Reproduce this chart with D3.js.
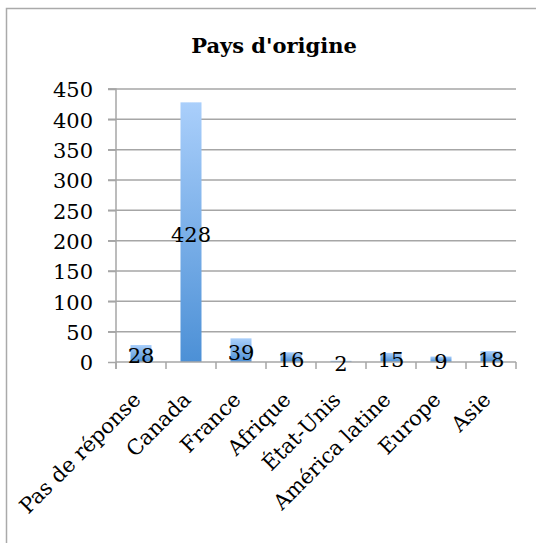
<!DOCTYPE html>
<html>
<head>
<meta charset="utf-8">
<script src="https://cdn.jsdelivr.net/npm/d3@7"></script>
<style>
  body { margin: 0; background: #fff; }
  svg text { font-family: "DejaVu Serif", serif; fill: #000; }
</style>
</head>
<body>
<div id="chart"></div>
<script>
  // data
  const categories = ["Pas de réponse", "Canada", "France", "Afrique", "État-Unis", "América latine", "Europe", "Asie"];
  const counts = [28, 428, 39, 16, 2, 15, 9, 18];
  const yTicks = [0, 50, 100, 150, 200, 250, 300, 350, 400, 450];
  const title = "Pays d'origine";

  const width = 536;
  const height = 543;
  const margin = { top: 89, left: 116, right: 20, bottom: 181 };

  const svg = d3.select('#chart')
    .append('svg')
    .attr('width', width)
    .attr('height', height);

  // outer frame, runs past the right and bottom edges
  svg.append('rect')
    .attr('x', 6.5).attr('y', 8.5)
    .attr('width', width + 20).attr('height', height + 20)
    .attr('fill', 'none')
    .attr('stroke', '#aaa')
    .attr('stroke-width', 1.5);

  const x = d3.scaleBand()
    .domain(categories)
    .range([margin.left, 516])
    .paddingInner(0.58)
    .paddingOuter(0.29);

  const y = d3.scaleLinear()
    .domain([0, 450])
    .range([362, margin.top]);

  // gradient for the bars
  const grad = svg.append('defs').append('linearGradient')
    .attr('id', 'barGrad')
    .attr('x1', 0).attr('y1', 0).attr('x2', 0).attr('y2', 1);
  grad.append('stop').attr('offset', '0%').attr('stop-color', '#aacffb');
  grad.append('stop').attr('offset', '100%').attr('stop-color', '#4c90d6');

  // gridlines
  svg.append('g')
    .selectAll('line')
    .data(yTicks.filter(d => d > 0))
    .enter()
    .append('line')
    .attr('x1', 108).attr('x2', 516)
    .attr('y1', d => y(d)).attr('y2', d => y(d))
    .attr('stroke', '#a6a6a6')
    .attr('stroke-width', 1.5);

  // y axis
  const yAxis = svg.append('g')
    .attr('transform', `translate(${margin.left},0)`)
    .call(d3.axisLeft(y).tickValues(yTicks).tickSize(8).tickPadding(15));
  yAxis.select('.domain').attr('stroke', '#a6a6a6').attr('stroke-width', 1.5)
    .attr('d', `M-8,${y(450)}H0V${y(0) + 7}`);
  yAxis.selectAll('.tick line').attr('stroke', '#a6a6a6').attr('stroke-width', 1.5);
  yAxis.selectAll('.tick text')
    .style('font-size', '21px')
    .attr('dy', '0.38em');

  // bars
  svg.append('g')
    .selectAll('rect')
    .data(counts)
    .enter()
    .append('rect')
    .attr('x', (d, i) => x(categories[i]))
    .attr('width', x.bandwidth())
    .attr('y', d => y(d))
    .attr('height', d => y(0) - y(d))
    .attr('fill', 'url(#barGrad)');

  // x axis: baseline and ticks on category edges
  const step = x.step();
  const xa = svg.append('g');
  xa.append('line')
    .attr('x1', margin.left).attr('x2', 516)
    .attr('y1', y(0)).attr('y2', y(0))
    .attr('stroke', '#a6a6a6').attr('stroke-width', 1.5);
  xa.selectAll('.xt')
    .data(d3.range(categories.length + 1))
    .enter()
    .append('line')
    .attr('x1', i => margin.left + i * step)
    .attr('x2', i => margin.left + i * step)
    .attr('y1', y(0)).attr('y2', y(0) + 7)
    .attr('stroke', '#a6a6a6').attr('stroke-width', 1.5);

  // category labels rotated
  xa.selectAll('.cat')
    .data(categories)
    .enter()
    .append('text')
    .attr('text-anchor', 'end')
    .style('font-size', '21px')
    .attr('transform', d => `translate(${x(d) + x.bandwidth() / 2 + 1},${401}) rotate(-45)`)
    .text(d => d);

  // value labels in the middle of the bars
  svg.append('g')
    .selectAll('text')
    .data(counts)
    .enter()
    .append('text')
    .attr('text-anchor', 'middle')
    .style('font-size', '21px')
    .attr('x', (d, i) => x(categories[i]) + x.bandwidth() / 2)
    .attr('y', d => (y(d) + y(0)) / 2 + 2)
    .attr('dy', '0.38em')
    .text(d => d);

  // title
  svg.append('text')
    .attr('x', 274)
    .attr('y', 53)
    .attr('text-anchor', 'middle')
    .style('font-size', '21px')
    .style('font-weight', 'bold')
    .text(title);
</script>
</body>
</html>
